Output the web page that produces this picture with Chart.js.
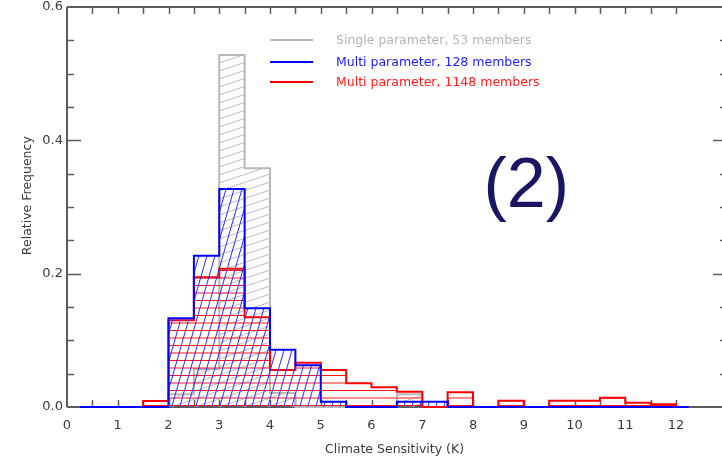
<!DOCTYPE html>
<html>
<head>
<meta charset="utf-8">
<script src="https://cdn.jsdelivr.net/npm/chart.js@4/dist/chart.umd.min.js"></script>
<style>
  html, body { margin: 0; padding: 0; background: #ffffff; }
  #wrap { width: 722px; height: 459px; }
</style>
</head>
<body>
<div id="wrap"><canvas id="c" width="722" height="459"></canvas></div>
<script>
// ---- data ----
const binStarts = [1.5, 2.0, 2.5, 3.0, 3.5, 4.0, 4.5, 5.0, 5.5, 6.0, 6.5, 7.0, 7.5, 8.0, 8.5, 9.0, 9.5, 10.0, 10.5, 11.0, 11.5];
const binWidth = 0.5;
const baselineStart = 0.25;
const baselineEnd = 12.25;
const singleParam53 = [0, 0.019, 0.057, 0.528, 0.358, 0.021, 0, 0, 0, 0, 0.019, 0, 0, 0, 0, 0, 0, 0, 0, 0, 0];
const multiParam128 = [0, 0.133, 0.227, 0.327, 0.148, 0.086, 0.0625, 0.008, 0, 0, 0.008, 0.008, 0, 0, 0, 0, 0, 0, 0, 0, 0];
const multiParam1148 = [0.009, 0.130, 0.1945, 0.2075, 0.1345, 0.0555, 0.0665, 0.0555, 0.0355, 0.0295, 0.023, 0, 0.022, 0, 0.0095, 0, 0.0095, 0.0095, 0.014, 0.0065, 0.004];
const seriesLabels = ['Single parameter, 53 members', 'Multi parameter, 128 members', 'Multi parameter, 1148 members'];
const xTickLabels = ['0','1','2','3','4','5','6','7','8','9','10','11','12'];
const yTickLabels = ['0.0','0.2','0.4','0.6'];
const xTitle = 'Climate Sensitivity (K)';
const yTitle = 'Relative Frequency';
const panelLabel = '(2)';

// ---- styles ----
const FONT = "'DejaVu Sans', sans-serif";
const AXIS_COLOR = '#5c5c5c';
const TEXT_COLOR = '#3a3a3a';

function stepPoints(vals) {
  const pts = [{x: baselineStart, y: 0}, {x: binStarts[0], y: 0}];
  binStarts.forEach((s, i) => {
    pts.push({x: s, y: vals[i]});
    pts.push({x: s + binWidth, y: vals[i]});
  });
  pts.push({x: binStarts[binStarts.length - 1] + binWidth, y: 0});
  pts.push({x: baselineEnd, y: 0});
  return pts;
}

function hatch(w, h, color, drawFn) {
  const c = document.createElement('canvas');
  c.width = w; c.height = h;
  const g = c.getContext('2d');
  g.strokeStyle = color;
  g.lineWidth = 1;
  drawFn(g, w, h);
  return g.createPattern(c, 'repeat');
}
function diag(g, w, h) {
  for (let k = -1; k <= 1; k++) {
    g.beginPath();
    g.moveTo(-w, 2 * h + k * h);
    g.lineTo(2 * w, -h + k * h);
    g.stroke();
  }
}
const grayHatch = hatch(24, 8, '#bcbcbc', diag);
const blueHatch = hatch(8, 28, '#2a2aff', diag);
const redHatch = hatch(4, 15, '#ff1414', (g, w, h) => {
  g.beginPath(); g.moveTo(0, 0.5); g.lineTo(w, 0.5); g.stroke();
  g.beginPath(); g.moveTo(0, 8); g.lineTo(w, 8); g.stroke();
});

const seriesColors = ['#b8b8b8', '#0000ff', '#ff0000'];
const legendTextColors = ['#b4b4b4', '#1c1cff', '#ff1c1c'];

const frame = {
  id: 'frame',
  beforeDatasetsDraw(chart) {
    const {ctx, chartArea: a, scales: {x, y}} = chart;
    ctx.save();
    ctx.strokeStyle = AXIS_COLOR;
    ctx.lineWidth = 2;
    ctx.beginPath();
    ctx.moveTo(a.left, a.top); ctx.lineTo(chart.width, a.top);
    ctx.moveTo(a.left, a.top); ctx.lineTo(a.left, a.bottom);
    ctx.moveTo(a.left, a.bottom); ctx.lineTo(chart.width, a.bottom);
    ctx.stroke();
    ctx.lineWidth = 1.5;
    ctx.beginPath();
    for (let v = 0.5; v <= 12.0001; v += 0.5) {
      const px = Math.round(x.getPixelForValue(v)) + 0.5;
      ctx.moveTo(px, a.bottom); ctx.lineTo(px, a.bottom - 7);
      ctx.moveTo(px, a.top); ctx.lineTo(px, a.top + 7);
    }
    for (let i = 1; i < 12; i++) {
      const v = i * 0.05;
      const len = (i % 4 === 0) ? 14 : 7;
      const py = Math.round(y.getPixelForValue(v)) + 0.5;
      ctx.moveTo(a.left, py); ctx.lineTo(a.left + len, py);
      ctx.moveTo(chart.width, py); ctx.lineTo(chart.width - len + 5, py);
    }
    ctx.stroke();
    ctx.restore();
  },
  afterDraw(chart) {
    const {ctx, chartArea: a, scales: {x, y}} = chart;
    ctx.save();
    // y axis title
    ctx.font = '12.5px ' + FONT;
    ctx.fillStyle = TEXT_COLOR;
    ctx.textAlign = 'center';
    ctx.textBaseline = 'middle';
    ctx.translate(28, y.getPixelForValue(0.317));
    ctx.rotate(-Math.PI / 2);
    ctx.fillText(yTitle, 0, 0);
    ctx.setTransform(1, 0, 0, 1, 0, 0);
    // legend
    const lx0 = x.getPixelForValue(4.0), lx1 = x.getPixelForValue(4.85), tx = x.getPixelForValue(5.3);
    const ly = [0.55, 0.518, 0.488];
    ctx.textAlign = 'left';
    chart.data.datasets.forEach((ds, i) => {
      const py = Math.round(y.getPixelForValue(ly[i]));
      ctx.strokeStyle = ds.borderColor;
      ctx.lineWidth = 2;
      ctx.beginPath(); ctx.moveTo(lx0, py); ctx.lineTo(lx1, py); ctx.stroke();
      ctx.fillStyle = legendTextColors[i];
      ctx.fillText(ds.label, tx, py + 1);
    });
    // panel label
    ctx.font = "70px 'Liberation Sans', Arial, sans-serif";
    ctx.fillStyle = '#1a1666';
    ctx.textAlign = 'center';
    ctx.textBaseline = 'alphabetic';
    ctx.fillText(panelLabel, x.getPixelForValue(9.05), y.getPixelForValue(0.3));
    ctx.restore();
  }
};

const datasets = [
  {label: seriesLabels[0], data: stepPoints(singleParam53), borderColor: seriesColors[0], backgroundColor: grayHatch, order: 3},
  {label: seriesLabels[1], data: stepPoints(multiParam128), borderColor: seriesColors[1], backgroundColor: blueHatch, order: 1},
  {label: seriesLabels[2], data: stepPoints(multiParam1148), borderColor: seriesColors[2], backgroundColor: redHatch, order: 2}
].map(d => Object.assign(d, {fill: 'origin', borderWidth: 2, pointRadius: 0, tension: 0, clip: 4, borderJoinStyle: 'miter'}));

new Chart(document.getElementById('c'), {
  type: 'line',
  data: {datasets},
  options: {
    responsive: false,
    animation: false,
    devicePixelRatio: 1,
    layout: {padding: {top: 7, right: 0, left: 0, bottom: 0}},
    plugins: {legend: {display: false}, tooltip: {enabled: false}},
    scales: {
      x: {
        type: 'linear', min: 0, max: 12.906,
        border: {display: false},
        grid: {display: false, drawTicks: false},
        ticks: {
          stepSize: 1, includeBounds: false, padding: 11, color: TEXT_COLOR,
          font: {family: FONT, size: 13},
          callback: (v) => xTickLabels[Math.round(v)] ?? ''
        },
        title: {display: true, text: xTitle, color: TEXT_COLOR, font: {family: FONT, size: 12.5}, padding: {top: 0, bottom: 1.5}},
        afterFit: (s) => { s.height = 52; s.paddingLeft = 0; s.paddingRight = 0; }
      },
      y: {
        type: 'linear', min: 0, max: 0.6,
        border: {display: false},
        grid: {display: false, drawTicks: false},
        ticks: {
          stepSize: 0.2, padding: 4, color: TEXT_COLOR,
          font: {family: FONT, size: 13},
          callback: (v) => yTickLabels[Math.round(v / 0.2)] ?? ''
        },
        title: {display: false},
        afterFit: (s) => { s.width = 67; s.paddingTop = 0; s.paddingBottom = 0; }
      }
    }
  },
  plugins: [frame]
});
</script>
</body>
</html>
